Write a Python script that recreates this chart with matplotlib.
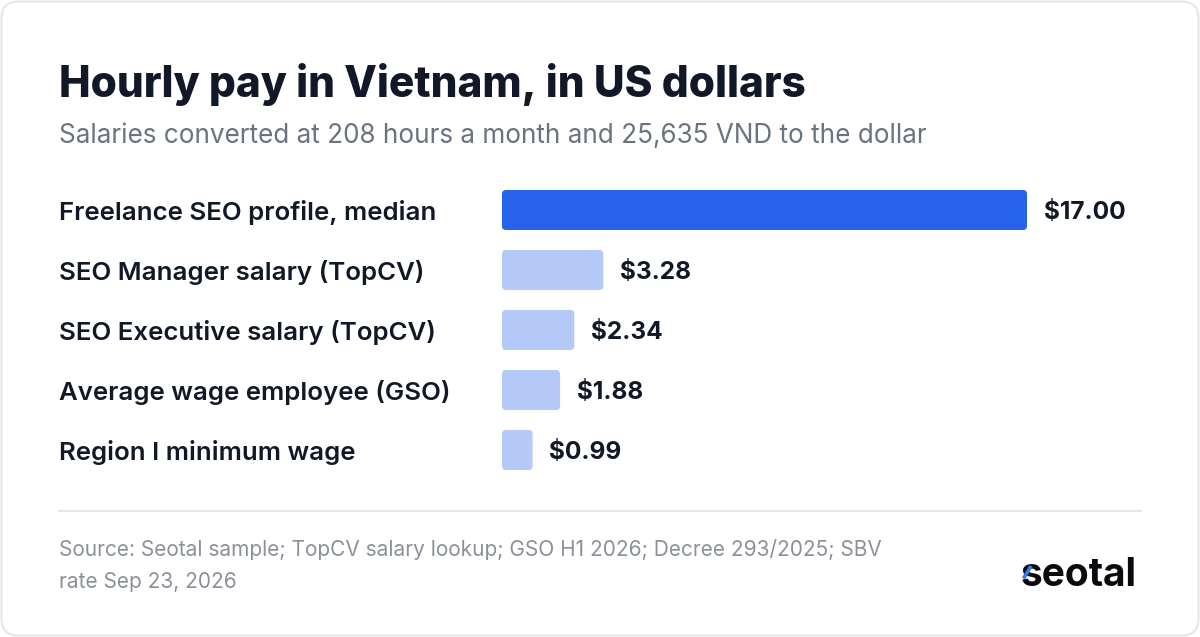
import matplotlib.pyplot as plt
from matplotlib.patches import FancyBboxPatch
from matplotlib.lines import Line2D
from matplotlib.transforms import blended_transform_factory

plt.rcParams['font.family'] = ['Inter', 'DejaVu Sans']

labels = ['Freelance SEO profile, median', 'SEO Manager salary (TopCV)',
          'SEO Executive salary (TopCV)', 'Average wage employee (GSO)',
          'Region I minimum wage']
values = [17.00, 3.28, 2.34, 1.88, 0.99]
bar_colors = ['#2563eb', '#b4c9f7', '#b4c9f7', '#b4c9f7', '#b4c9f7']

title = 'Hourly pay in Vietnam, in US dollars'
subtitle = 'Salaries converted at 208 hours a month and 25,635 VND to the dollar'
source = ('Source: Seotal sample; TopCV salary lookup; GSO H1 2026; Decree 293/2025; SBV\n'
          'rate Sep 23, 2026')

W, H = 1200, 637
fig = plt.figure(figsize=(12, 6.37), dpi=100)
fig.patch.set_facecolor('white')

def fx(px):
    return px / W

def fy(py):
    return 1 - py / H

# card
card = FancyBboxPatch((fx(1.5), fy(635.5)), fx(1197), 634 / H,
                      boxstyle='round,pad=0,rounding_size=0.014',
                      transform=fig.transFigure, facecolor='white',
                      edgecolor='#e3e6eb', linewidth=1.5, mutation_aspect=W / H,
                      zorder=-10)
fig.patches.append(card)

fig.text(fx(59), fy(97), title, fontsize=30.5, fontweight='heavy', color='#111827',
         va='baseline')
fig.text(fx(59), fy(143), subtitle, fontsize=18.8, color='#6b7280', va='baseline')

# bars
x_max = 17.0
ax = fig.add_axes([fx(502), fy(480), fx(1027) - fx(502), fy(180) - fy(480)])
ax.set_xlim(0, x_max)
ax.set_ylim(len(values) - 0.5, -0.5)
ax.axis('off')
ax.set_zorder(5)

bar_h = 40 / 60
px_x = x_max / 525          # data units per pixel along x
px_y = 1 / 60               # data units per pixel along y
r = 4 * px_x
for i, (v, c) in enumerate(zip(values, bar_colors)):
    p = FancyBboxPatch((0, i - bar_h / 2), v, bar_h,
                       boxstyle=f'round,pad=0,rounding_size={r}',
                       mutation_aspect=px_y / px_x,
                       facecolor=c, edgecolor='none')
    ax.add_patch(p)
    ax.annotate(f'${v:.2f}', (v, i), xytext=(12, 0), textcoords='offset points',
                ha='left', va='center_baseline', fontsize=17.6, fontweight='bold',
                color='#111827', annotation_clip=False)

lab_tr = blended_transform_factory(fig.transFigure, ax.transData)
for i, lab in enumerate(labels):
    ax.text(fx(59), i, lab, transform=lab_tr, ha='left', va='center_baseline',
            fontsize=18.6, fontweight='semibold', color='#111827', clip_on=False)

# divider
fig.add_artist(Line2D([fx(59), fx(1141)], [fy(510.5), fy(510.5)],
                      color='#e5e7eb', linewidth=1.5, transform=fig.transFigure))

fig.text(fx(59), fy(588), source, fontsize=15, color='#8b909a', va='baseline',
         linespacing=1.72)

# logo
fig.text(fx(1137), fy(586), 'seotal', fontsize=28, fontweight='bold',
         color='#0b0b0f', ha='right', va='baseline', zorder=3)
fig.add_artist(Line2D([fx(1023.5), fx(1031)], [fy(578.5), fy(566)],
                      color='#2f7cf0', linewidth=2.6, transform=fig.transFigure,
                      solid_capstyle='butt', zorder=6))

fig.savefig('out.png', dpi=100, facecolor='white')
